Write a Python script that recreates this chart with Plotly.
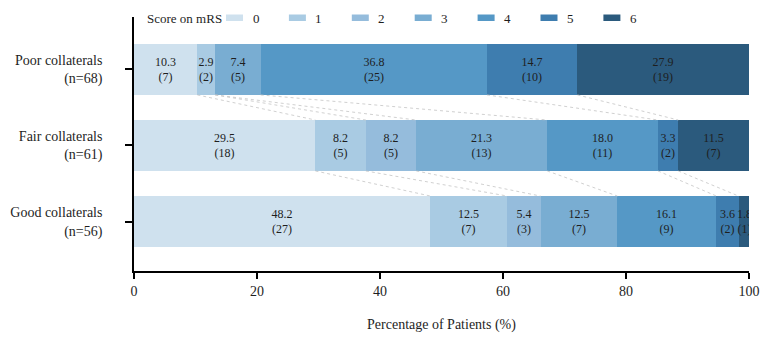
import plotly.graph_objects as go

# ---- data ----
groups = ["Good collaterals<br>(n=56)", "Fair collaterals<br>(n=61)", "Poor collaterals<br>(n=68)"]
scores = ["0", "1", "2", "3", "4", "5", "6"]
# percentages per score (order: Good, Fair, Poor)
pct_0 = [48.2, 29.5, 10.3]
pct_1 = [12.5, 8.2, 2.9]
pct_2 = [5.4, 8.2, 0.0]
pct_3 = [12.5, 21.3, 7.4]
pct_4 = [16.1, 18.0, 36.8]
pct_5 = [3.6, 3.3, 14.7]
pct_6 = [1.8, 11.5, 27.9]
# patient counts per score
n_0 = [27, 18, 7]
n_1 = [7, 5, 2]
n_2 = [3, 5, 0]
n_3 = [7, 13, 5]
n_4 = [9, 11, 25]
n_5 = [2, 2, 10]
n_6 = [1, 7, 19]
x_ticks = [0, 20, 40, 60, 80, 100]

pcts = [pct_0, pct_1, pct_2, pct_3, pct_4, pct_5, pct_6]
counts = [n_0, n_1, n_2, n_3, n_4, n_5, n_6]
colors = ["#cfe1ee", "#a9cbe3", "#95bcdc", "#79add2", "#5598c6", "#3e7daf", "#2b5a7d"]

FONT = "'Liberation Serif', 'Times New Roman', Times, serif"
W, H = 767, 343
ML, MR, MT, MB = 134, 18, 17, 72
PW, PH = W - ML - MR, H - MT - MB
BARW = 0.67
ypos = list(range(len(groups)))

fig = go.Figure()

# connector dotted lines between adjacent bars
cums = []
for gi in range(len(groups)):
    c, s = [], 0.0
    for k in range(len(scores) - 1):
        s += pcts[k][gi]
        c.append(s)
    cums.append(c)
lx, ly = [], []
for gi in range(len(groups) - 1):
    lower, upper = gi, gi + 1
    for k in range(len(scores) - 1):
        lx += [cums[upper][k], cums[lower][k], None]
        ly += [upper - BARW / 2, lower + BARW / 2, None]
fig.add_trace(go.Scatter(x=lx, y=ly, mode="lines", hoverinfo="skip", showlegend=False,
                         line=dict(color="#c4c4c4", width=0.8, dash="dot")))

for k, sc in enumerate(scores):
    txt = [("" if counts[k][g] == 0 else f"{pcts[k][g]:.1f}<br>({counts[k][g]})") for g in range(len(groups))]
    fig.add_trace(go.Bar(
        y=ypos, x=pcts[k], orientation="h", width=BARW, name=sc,
        marker=dict(color=colors[k], line=dict(width=0)),
        text=txt, textposition="inside", insidetextanchor="middle", textangle=0,
        textfont=dict(family=FONT, size=12, color="#1e1e1e"),
        showlegend=False,
    ))

# custom legend
def px_x(p):
    return (p - ML) / PW

def px_y(p):
    return 1 - (p - MT) / PH

fig.add_annotation(x=px_x(145), y=px_y(18), xref="paper", yref="paper", text="Score on mRS",
                   showarrow=False, xanchor="left", yanchor="middle",
                   font=dict(family=FONT, size=13, color="#1e1e1e"))
for k, sc in enumerate(scores):
    x0 = 226 + k * 62.9
    fig.add_shape(type="rect", xref="paper", yref="paper",
                  x0=px_x(x0), x1=px_x(x0 + 17), y0=px_y(21), y1=px_y(14.5),
                  fillcolor=colors[k], line=dict(width=0))
    fig.add_annotation(x=px_x(x0 + 30), y=px_y(18), xref="paper", yref="paper", text=sc,
                       showarrow=False, xanchor="center", yanchor="middle",
                       font=dict(family=FONT, size=13, color="#1e1e1e"))

fig.update_layout(
    width=W, height=H, margin=dict(l=ML, r=MR, t=MT, b=MB, autoexpand=False),
    barmode="stack", bargap=0,
    plot_bgcolor="white", paper_bgcolor="white",
    font=dict(family=FONT, size=12, color="#1e1e1e"),
)
fig.update_xaxes(range=[0, 100], tickvals=x_ticks, ticks="outside", ticklen=6, tickwidth=1.5,
                 tickcolor="black", showline=True, linecolor="black", linewidth=1.5,
                 showgrid=False, zeroline=False, automargin=False,
                 tickfont=dict(family=FONT, size=14, color="#1e1e1e"),
                 title=dict(text="Percentage of Patients (%)", standoff=22,
                            font=dict(family=FONT, size=14, color="#1e1e1e")))
fig.update_yaxes(range=[-0.651, 2.69], tickvals=ypos, ticktext=groups, ticks="outside",
                 ticklen=7, tickwidth=1.5, tickcolor="black", showline=True, linecolor="black",
                 linewidth=1.5, showgrid=False, zeroline=False, ticklabelstandoff=20,
                 automargin=False,
                 tickfont=dict(family=FONT, size=14, color="#1e1e1e"))
fig.update_layout(uniformtext=dict(minsize=12, mode="show"))

fig.write_html("out.html")
